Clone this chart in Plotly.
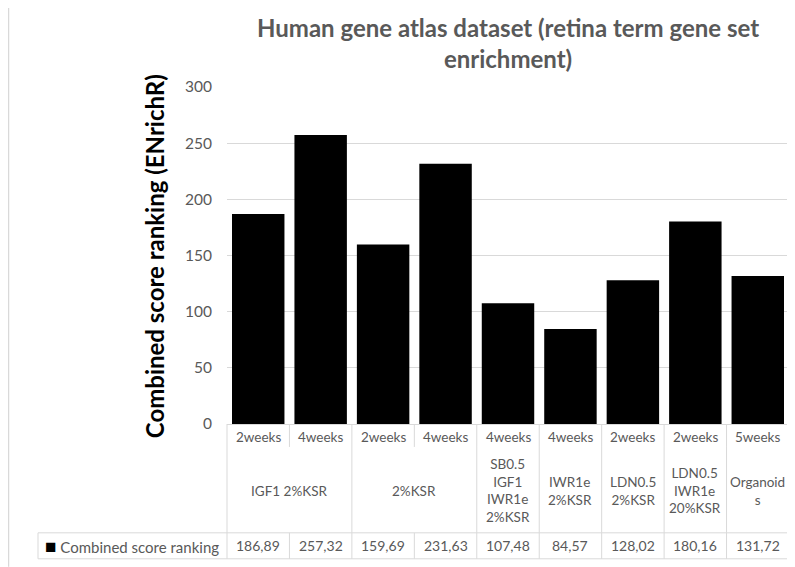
import plotly.graph_objects as go

weeks = ["2weeks", "4weeks", "2weeks", "4weeks", "4weeks", "4weeks", "2weeks", "2weeks", "5weeks"]
values = [186.89, 257.32, 159.69, 231.63, 107.48, 84.57, 128.02, 180.16, 131.72]
value_labels = ["186,89", "257,32", "159,69", "231,63", "107,48", "84,57", "128,02", "180,16", "131,72"]
group_labels = ["IGF1 2%KSR", "2%KSR", "SB0.5<br>IGF1<br>IWR1e<br>2%KSR", "IWR1e<br>2%KSR",
                "LDN0.5<br>2%KSR", "LDN0.5<br>IWR1e<br>20%KSR", "Organoid<br>s"]
group_sizes = [2, 2, 1, 1, 1, 1, 1]
series_name = "Combined score ranking"
title_text = "Human gene atlas dataset (retina term gene set<br>enrichment)"
y_title = "Combined score ranking (ENrichR)"
y_ticks = [0, 50, 100, 150, 200, 250, 300]

# page has an 8px body margin; figure sits at (8,8)
OFF = 8
W, H = 795 - OFF, 567 - OFF
PL, PR, PT, PB = 227, 789, 86.5, 424   # plot box in page pixels
L, R, T = PL - OFF, 795 - PR, PT - OFF
B = H - (PB - OFF)
plot_h = PB - PT
plot_w = PR - PL

def py(pix):  # page pixel y -> paper y
    return (PB - pix) / plot_h

def px(pix):
    return (pix - PL) / plot_w

FONT = "Lato, 'Open Sans', sans-serif"
GRAY = "#595959"
LINE = "#d9d9d9"

xs = list(range(len(values)))
fig = go.Figure()
fig.add_trace(go.Bar(x=xs, y=values, marker=dict(color="black", line=dict(width=0)),
                     width=0.84, name=series_name, showlegend=False))

shapes = []
annotations = []

def ann(**kw):
    kw.setdefault("showarrow", False)
    kw.setdefault("xanchor", "center")
    kw.setdefault("yanchor", "middle")
    annotations.append(kw)

for i, w in enumerate(weeks):
    ann(x=i, y=py(437), xref="x", yref="paper", text=w,
        font=dict(size=13.5, color=GRAY, family=FONT))
    ann(x=i, y=py(546), xref="x", yref="paper", text=value_labels[i],
        font=dict(size=14, color=GRAY, family=FONT))

for b in range(1, len(values)):
    shapes.append(dict(type="line", xref="x", yref="paper", x0=b - 0.5, x1=b - 0.5,
                       y0=py(424), y1=py(447), line=dict(color=LINE, width=1)))
    shapes.append(dict(type="line", xref="x", yref="paper", x0=b - 0.5, x1=b - 0.5,
                       y0=py(533), y1=py(559), line=dict(color=LINE, width=1)))
for xd in (0, 1):
    shapes.append(dict(type="line", xref="x domain", yref="paper", x0=xd, x1=xd,
                       y0=py(424), y1=py(559), line=dict(color=LINE, width=1)))

start = 0
for lbl, size in zip(group_labels, group_sizes):
    center = start + (size - 1) / 2
    ann(x=center, y=py(491), xref="x", yref="paper", text=lbl, align="center",
        font=dict(size=13.5, color=GRAY, family=FONT))
    start += size
    if start < len(values):
        shapes.append(dict(type="line", xref="x", yref="paper", x0=start - 0.5, x1=start - 0.5,
                           y0=py(447), y1=py(533), line=dict(color=LINE, width=1)))

for yy in (533, 559):
    shapes.append(dict(type="line", xref="paper", yref="paper", x0=px(38), x1=1,
                       y0=py(yy), y1=py(yy), line=dict(color=LINE, width=1)))
shapes.append(dict(type="line", xref="paper", yref="paper", x0=px(38), x1=px(38),
                   y0=py(533), y1=py(559), line=dict(color=LINE, width=1)))
ann(x=px(43), y=py(546), xref="paper", yref="paper", xanchor="left",
    text="<span style='color:black;font-size:19px'>■</span> " + series_name,
    font=dict(size=15, color=GRAY, family=FONT))

# outer chart border (left edge)
shapes.append(dict(type="line", xref="paper", yref="paper", x0=px(8.5), x1=px(8.5),
                   y0=py(5), y1=py(567), line=dict(color=LINE, width=1.5)))

ann(x=px(508), y=py(42), xref="paper", yref="paper", text="<b>" + title_text + "</b>",
    align="center", font=dict(size=24, color=GRAY, family=FONT))
ann(x=px(154), y=py(256), xref="paper", yref="paper", text="<b>" + y_title + "</b>",
    textangle=-90, font=dict(size=24, color="black", family=FONT))

fig.update_layout(
    width=W, height=H,
    margin=dict(l=L, r=R, t=T, b=B, autoexpand=False),
    paper_bgcolor="white", plot_bgcolor="white",
    shapes=shapes, annotations=annotations,
    xaxis=dict(range=[-0.5, len(values) - 0.5], showticklabels=False, showgrid=False,
               zeroline=False, showline=True, linecolor=LINE, linewidth=1, fixedrange=True),
    yaxis=dict(range=[0, 300], tickvals=y_ticks, showgrid=True, gridcolor=LINE, gridwidth=1,
               zeroline=False, showline=False, ticks="", ticklabelstandoff=14,
               tickfont=dict(size=15.5, color=GRAY, family=FONT)),
    bargap=0.16,
)

fig.write_html("out.html")
